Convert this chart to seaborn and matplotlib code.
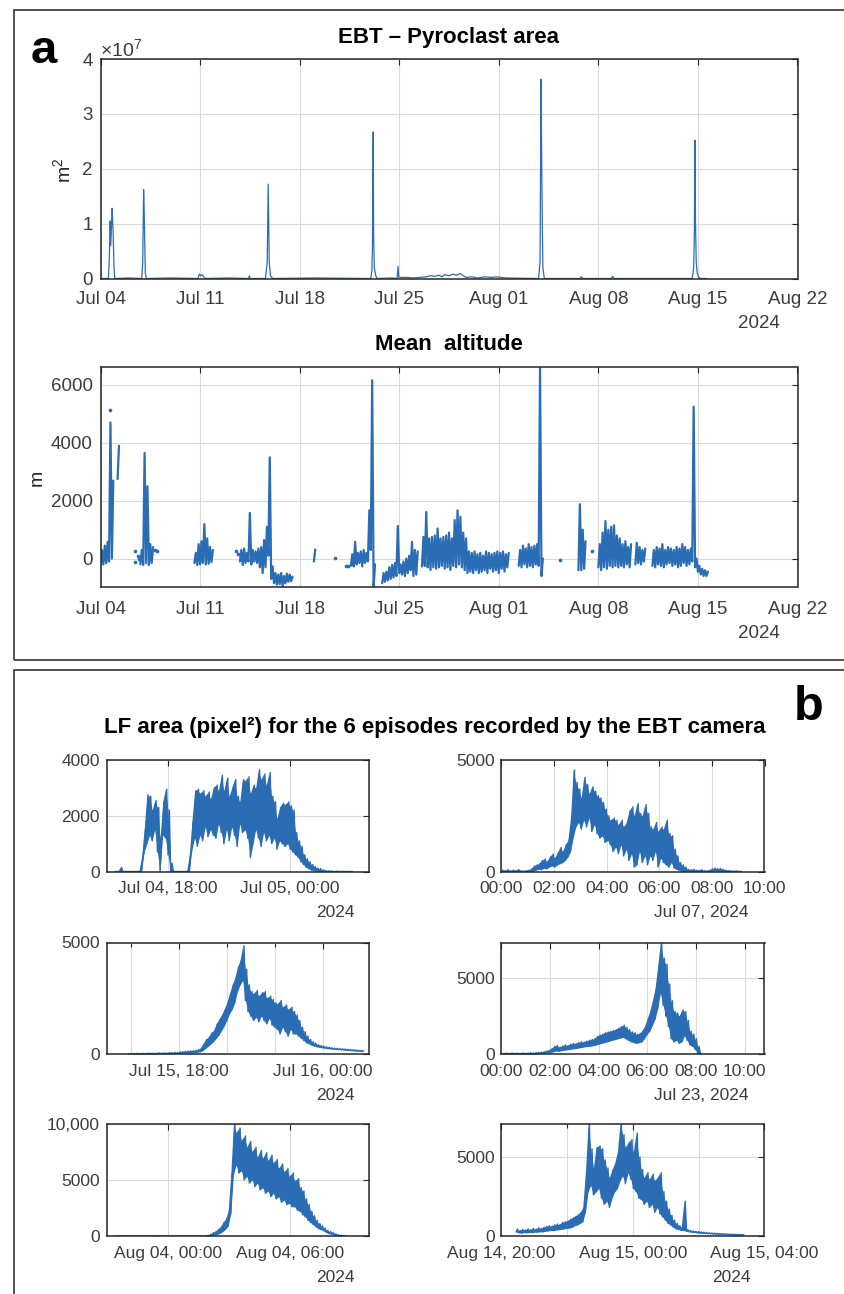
import numpy as np
import pandas as pd
import matplotlib
matplotlib.use('Agg')
import matplotlib.pyplot as plt
from matplotlib.patches import Rectangle
import seaborn as sns

nan = np.nan

# ---------------- panel a : pyroclast area (days since Jul 04, value x1e7 m^2)
area_day = [0.0, 0.55, 0.62, 0.68, 0.72, 0.78, 0.82, 0.88, 0.95, 1.0,
            2.0, 2.9, 2.97, 3.03, 3.07, 3.10, 3.15, 3.22,
            5.0, 6.85, 6.95, 7.05, 7.15, 7.25, 7.35,
            9.0, 10.40, 10.46, 10.52,
            11.6, 11.72, 11.79, 11.86, 11.95, 12.1,
            15.0, 19.0, 19.08, 19.12, 19.17, 19.2, 19.25, 19.35, 19.45,
            20.5, 20.85, 20.92, 20.97,
            21.5, 22.0, 22.9, 23.2, 23.5, 23.8, 24.0, 24.2, 24.5, 24.8, 25.0, 25.3, 25.5, 25.7,
            26.1, 26.5, 27.0, 27.5, 27.8, 28.5,
            30.8, 30.9, 30.97, 31.0, 31.05, 31.1, 31.2,
            33.7, 33.8, 33.9, 35.9, 36.0, 36.1,
            41.6, 41.7, 41.75, 41.79, 41.83, 41.88, 41.95, 42.05, 42.2, 42.6]
area_e7 = [0, 0, 0.35, 1.05, 0.6, 1.0, 1.28, 0.9, 0.2, 0,
           0.01, 0, 0.3, 1.62, 1.22, 0.8, 0.1, 0,
           0.01, 0, 0.08, 0.05, 0.07, 0.03, 0,
           0.01, 0, 0.05, 0,
           0, 0.3, 1.72, 0.3, 0.05, 0,
           0.01, 0, 0.15, 0.6, 2.67, 0.8, 0.2, 0.05, 0,
           0.01, 0, 0.22, 0.02,
           0.02, 0.01, 0.03, 0.05, 0.04, 0.06, 0.03, 0.07, 0.05, 0.08, 0.06, 0.09, 0.05, 0.02,
           0.03, 0.01, 0.03, 0.02, 0.03, 0.01,
           0, 0.3, 3.63, 2.6, 1.2, 0.2, 0,
           0, 0.03, 0, 0, 0.04, 0,
           0, 0.2, 0.8, 2.52, 1.0, 0.3, 0.1, 0.02, 0, 0]

# ---------------- panel a : mean altitude, upper / lower envelope every 0.2 day (m)
alt_hi = [300, 450, 580, 4700, 2700, nan, 3900, nan, nan, nan,
          nan, nan, nan, nan, 300, 3650, 2500, 500, 400, nan,
          nan, nan, nan, nan, nan, nan, nan, nan, nan, nan,
          nan, nan, nan, 200, 500, 600, 1190, 700, 400, 300,
          nan, nan, nan, nan, nan, nan, nan, nan, nan, 300,
          350, 200, 1580, 300, 250, 350, 400, 640, 1100, 3500,
          -270, -500, -550, -500, -600, -520, -550, -620, nan, nan,
          nan, nan, nan, nan, nan, 320, nan, nan, nan, nan,
          nan, nan, nan, nan, nan, nan, nan, nan, 150, 580,
          200, 250, 300, 200, 1670, 6160, -200, nan, nan, -500,
          -450, -300, -220, -150, 1130, -200, -100, 0, 100, 580,
          300, 250, nan, 750, 1610, 700, 750, 800, 1040, 700,
          750, 800, 900, 700, 1330, 1670, 1450, 900, 700, 250,
          200, 250, 150, 200, 100, 250, 200, 150, 200, 250,
          200, 250, 150, 200, nan, nan, nan, 300, 450, 350,
          500, 400, 450, 500, 6610, 0, nan, nan, nan, nan,
          nan, nan, nan, nan, nan, nan, nan, nan, 1880, 1000,
          600, nan, nan, nan, nan, 500, 900, 1300, 1000, 1100,
          1150, 800, 700, 500, 600, 400, 500, nan, 550, 400,
          300, 350, nan, nan, 300, 400, 350, 500, 300, 400,
          350, 300, 400, 350, 500, 400, 300, 350, 5250, 0,
          -250, -350, -400, -450]
alt_lo = [-220, -200, -160, -100, 0, nan, 2750, nan, nan, nan,
          nan, nan, nan, nan, -200, -220, -150, -220, -150, nan,
          nan, nan, nan, nan, nan, nan, nan, nan, nan, nan,
          nan, nan, nan, -150, -220, -200, -150, -200, -180, -120,
          nan, nan, nan, nan, nan, nan, nan, nan, nan, -100,
          -220, -150, -100, -200, -100, -150, -300, -500, -300, 100,
          -700, -850, -900, -880, -960, -850, -800, -780, nan, nan,
          nan, nan, nan, nan, nan, -100, nan, nan, nan, nan,
          nan, nan, nan, nan, nan, nan, nan, nan, -250, -270,
          -200, -150, -270, -150, -100, 300, -960, nan, nan, -850,
          -800, -750, -700, -650, -600, -500, -550, -600, -500, -400,
          -600, -550, nan, -270, -250, -300, -390, -300, -350, -300,
          -250, -350, -300, -390, -250, -300, -200, -300, -400, -500,
          -450, -500, -400, -500, -450, -400, -500, -350, -450, -400,
          -500, -350, -450, -300, nan, nan, nan, -250, -300, -200,
          -300, -250, -300, -200, -250, -600, nan, nan, nan, nan,
          nan, nan, nan, nan, nan, nan, nan, nan, -400, -400,
          -350, nan, nan, nan, nan, -300, -400, -300, -350, -250,
          -300, -250, -300, -250, -300, -200, -300, nan, -200, -150,
          -200, -100, nan, nan, -250, -300, -200, -250, -300, -200,
          -150, -250, -200, -300, -250, -150, -250, -200, -100, -300,
          -450, -550, -600, -600]
alt_dot_day = [0.70, 2.42, 2.45, 2.66, 2.74, 3.85, 3.95, 9.55, 9.65, 16.5, 17.25, 17.4, 32.3, 34.55]
alt_dot_val = [5120, 280, -100, 100, 0, 300, 250, 250, 150, 20, -270, -250, -50, 250]

a_xticks = [0, 7, 14, 21, 28, 35, 42, 49]
a_xticklabels = ['Jul 04', 'Jul 11', 'Jul 18', 'Jul 25', 'Aug 01', 'Aug 08', 'Aug 15', 'Aug 22']

# ---------------- panel b : LF area (pixel^2), hi / lo envelopes
ep1_hi = [0, 0, 150, 0, 0, 0, 0, 0, 0, 0,
          500, 1500, 2750, 2700, 2200, 2550, 2300, 1200, 2500, 2950,
          2200, 300, 0, 0, 0, 0, 0, 0, 600, 1800,
          2900, 2950, 2800, 2900, 2700, 2850, 2600, 3000, 3100, 2900,
          3450, 2900, 3350, 2700, 3000, 3300, 2700, 2500, 3300, 3250,
          3400, 2800, 3100, 3000, 3650, 3300, 3500, 3100, 3550, 2700,
          2500, 1900, 2300, 2450, 2400, 2500, 2350, 2200, 1400, 1100,
          900, 600, 450, 350, 250, 180, 120, 100, 60, 30,
          20, 20, 0, 10, 0, 0, 0, 0, 0, 0]
ep1_lo = [0, 0, 0, 0, 0, 0, 0, 0, 0, 0,
          0, 700, 1000, 1300, 1100, 1500, 700, 0, 1300, 1200,
          600, 0, 0, 0, 0, 0, 0, 0, 0, 800,
          1200, 900, 1300, 1100, 1600, 1250, 1500, 1300, 1200, 1700,
          1400, 1000, 1500, 1100, 1600, 1300, 900, 1700, 1400, 1500,
          1200, 500, 1000, 1500, 1200, 900, 1400, 1100, 1300, 1000,
          1200, 800, 1100, 1000, 900, 1000, 800, 700, 600, 500,
          350, 250, 150, 100, 50, 30, 20, 0, 0, 0,
          0, 0, 0, 0, 0, 0, 0, 0, 0, 0]

ep2_hi = [60, 40, 80, 30, 60, 40, 90, 30, 20, 40,
          60, 120, 250, 300, 350, 500, 560, 450, 650, 780,
          600, 850, 1080, 900, 1200, 1400, 2400, 4550, 4000, 3700,
          3300, 4220, 3900, 3500, 3800, 3600, 3400, 3300, 3100, 2800,
          2500, 2300, 2400, 2300, 2100, 2300, 2000, 2200, 2700, 2900,
          2500, 3050, 2600, 2500, 3000, 2600, 2000, 1900, 2200, 1800,
          2000, 1900, 2300, 1700, 1600, 1000, 700, 400, 300, 200,
          100, 80, 100, 60, 50, 80, 40, 30, 60, 120,
          150, 130, 140, 100, 60, 40, 30, 20, 30, 10,
          0]
ep2_lo = [0, 0, 0, 0, 0, 0, 0, 0, 0, 0,
          0, 0, 30, 60, 100, 80, 150, 120, 200, 250,
          200, 300, 350, 400, 500, 650, 900, 1500, 2000, 2200,
          1900, 2300, 2000, 2400, 1800, 2100, 1700, 1500, 1600, 1300,
          1400, 1200, 900, 1100, 800, 1200, 700, 1000, 500, 800,
          200, 300, 900, 400, 700, 300, 700, 500, 900, 200,
          600, 400, 300, 200, 400, 150, 100, 50, 0, 0,
          0, 0, 0, 0, 0, 0, 0, 0, 0, 0,
          30, 20, 0, 0, 0, 0, 0, 0, 0, 0,
          0]

ep3_hi = [10, 20, 10, 30, 20, 30, 20, 40, 30, 40,
          30, 50, 40, 50, 40, 60, 50, 70, 60, 90,
          100, 120, 130, 140, 150, 170, 200, 260, 450, 650,
          750, 950, 1050, 1350, 1550, 1750, 2000, 2300, 2700, 3100,
          3400, 3900, 4200, 4850, 3800, 3100, 2800, 2700, 2850, 2600,
          2750, 2800, 2500, 2600, 2450, 2300, 2250, 2400, 2100, 2200,
          2000, 2100, 1900, 1750, 1500, 1200, 1000, 800, 650, 550,
          480, 420, 380, 350, 320, 300, 280, 260, 250, 240,
          230, 220, 210, 200, 190, 180, 170, 160, 150]
ep3_lo = [0, 0, 0, 0, 0, 0, 0, 0, 0, 10,
          0, 10, 10, 10, 10, 20, 20, 20, 20, 30,
          40, 40, 50, 50, 60, 70, 80, 100, 150, 250,
          350, 450, 550, 700, 850, 1050, 1250, 1500, 1800, 2000,
          2300, 2800, 3100, 3300, 2400, 1900, 1700, 1500, 1650, 1450,
          1700, 1500, 1350, 1600, 1300, 1200, 1100, 900, 1200, 1000,
          800, 1100, 900, 900, 800, 700, 600, 500, 450, 400,
          350, 320, 300, 280, 260, 240, 230, 220, 210, 200,
          190, 180, 170, 160, 150, 140, 130, 120, 110]

ep4_hi = [50, 60, 40, 70, 50, 60, 40, 70, 50, 60,
          80, 60, 90, 100, 120, 150, 200, 250, 350, 500,
          560, 450, 520, 600, 550, 650, 700, 680, 750, 800,
          780, 850, 900, 950, 1000, 1150, 1250, 1300, 1400, 1450,
          1500, 1550, 1600, 1700, 1800, 1900, 1750, 1600, 1450, 1400,
          1300, 1350, 1500, 1800, 2300, 2800, 3500, 4300, 5800, 7330,
          6300, 5900, 4600, 3500, 2800, 2700, 2500, 2900, 2800, 2200,
          1500, 1300, 1000, 500, 0]
ep4_lo = [0, 0, 0, 0, 0, 0, 0, 0, 0, 0,
          0, 0, 10, 20, 30, 40, 60, 80, 100, 150,
          200, 180, 220, 250, 280, 300, 330, 350, 380, 420,
          450, 480, 500, 520, 550, 600, 650, 700, 750, 800,
          850, 900, 950, 1000, 1050, 1100, 1000, 900, 800, 750,
          700, 750, 800, 1000, 1300, 1500, 1900, 2300, 3000, 4000,
          3200, 2500, 1800, 1000, 800, 900, 700, 800, 1200, 900,
          600, 500, 300, 50, 0]

ep5_hi = [0, 0, 20, 0, 0, 10, 0, 0, 0, 0,
          0, 0, 0, 0, 0, 20, 0, 0, 0, 0,
          0, 0, 0, 0, 0, 0, 0, 0, 0, 0,
          0, 0, 0, 0, 0,
          60, 150, 300, 400, 600, 800, 1200, 1500, 2200, 5500,
          10000, 9200, 9600, 8500, 8900, 7900, 8400, 7500, 7900, 7000,
          7600, 6900, 7400, 6700, 7200, 6500, 6800, 6000, 6400, 5700,
          6000, 5300, 5600, 4900, 5100, 4300, 4000, 3300, 2800, 2200,
          1800, 1400, 1100, 900, 700, 500, 400, 300, 200, 120,
          60, 20, 0]
ep5_lo = [0, 0, 0, 0, 0, 0, 0, 0, 0, 0,
          0, 0, 0, 0, 0, 0, 0, 0, 0, 0,
          0, 0, 0, 0, 0, 0, 0, 0, 0, 0,
          0, 0, 0, 0, 0,
          0, 0, 50, 100, 150, 250, 400, 600, 900, 2000,
          5500, 6300, 5600, 5800, 5000, 5300, 4700, 5000, 4400, 4700,
          4100, 4300, 3800, 4000, 3500, 3800, 3300, 3500, 3000, 3200,
          2800, 2900, 2600, 2600, 2300, 2200, 1900, 1700, 1400, 1200,
          1000, 800, 650, 550, 450, 300, 200, 150, 80, 30,
          0, 0, 0]

ep6_hi = [450, 350, 420, 380, 450, 400, 480, 430, 520, 480,
          550, 600, 650, 620, 700, 750, 720, 850, 900, 950,
          1050, 1150, 1250, 1350, 1500, 1800, 4000, 7100, 5500, 4300,
          5600, 5700, 5500, 4800, 4300, 3700, 4200, 4600, 5300, 7100,
          6400, 5600, 5900, 6100, 5300, 6500, 5000, 4200, 3700, 4000,
          3600, 3900, 3500, 3700, 4000, 2800, 2200, 1700, 1300, 1000,
          800, 650, 550, 2200, 400, 350, 320, 300, 280, 260,
          240, 220, 200, 190, 180, 170, 160, 150, 140, 130,
          120, 120, 110, 100, 100, 90]
ep6_lo = [250, 200, 180, 220, 200, 230, 210, 250, 240, 270,
          260, 300, 320, 350, 340, 380, 400, 420, 450, 480,
          500, 550, 650, 700, 800, 900, 1500, 2800, 3200, 2600,
          2800, 3000, 2400, 2000, 2200, 1800, 2400, 2800, 3000, 3500,
          3800, 3300, 4000, 3600, 3000, 2800, 2400, 2300, 2000, 2200,
          1800, 2000, 1500, 1800, 1400, 1200, 1000, 800, 700, 550,
          450, 400, 350, 350, 300, 260, 240, 220, 200, 180,
          170, 160, 150, 140, 130, 120, 110, 100, 100, 90,
          80, 80, 70, 70, 60, 60]

hours_2h = ['00:00', '02:00', '04:00', '06:00', '08:00', '10:00']

# ---------------- style
sns.set_theme(style='white')
plt.rcParams['font.family'] = ['Liberation Sans', 'DejaVu Sans']
plt.rcParams['mathtext.fontset'] = 'custom'
plt.rcParams['mathtext.rm'] = 'Liberation Sans'
plt.rcParams['mathtext.it'] = 'Liberation Sans:italic'
plt.rcParams['mathtext.bf'] = 'Liberation Sans:bold'

BLUE = '#2a6db5'
GRID = '#dadada'
INK = '#262626'
TICK = '#3c3c3c'
W, H = 844, 1294

fig = plt.figure(figsize=(W / 100, H / 100), dpi=100)
fig.patch.set_facecolor('white')


def rect(x0, y0, x1, y1):
    return [x0 / W, 1 - y1 / H, (x1 - x0) / W, (y1 - y0) / H]


def ftext(x, y, s, **kw):
    fig.text(x / W, 1 - y / H, s, **kw)


def style(ax, fs, padx, pady):
    for s in ax.spines.values():
        s.set_visible(True)
        s.set_color(INK)
        s.set_linewidth(1.1)
    ax.tick_params(which='both', direction='in', top=True, right=True,
                   color=INK, labelcolor=TICK, labelsize=fs, width=0.8)
    ax.tick_params(which='major', length=4)
    ax.tick_params(which='minor', length=3)
    ax.tick_params(axis='x', which='both', pad=padx)
    ax.tick_params(axis='y', which='both', pad=pady)
    ax.grid(True, which='both', color=GRID, lw=0.8)
    ax.set_axisbelow(True)
    ax.set_xlabel('')
    ax.set_ylabel('')
    ax.set_facecolor('white')


def draw(ax, t, v, lw=0.9):
    t = np.asarray(t, float)
    v = np.asarray(v, float)
    n = min(len(t), len(v))
    t, v = t[:n], v[:n]
    seg = np.cumsum(np.isnan(v))
    ok = ~np.isnan(v)
    df = pd.DataFrame({'t': t[ok], 'v': v[ok], 'seg': seg[ok]})
    sns.lineplot(data=df, x='t', y='v', units='seg', estimator=None, sort=False,
                 color=BLUE, lw=lw, ax=ax, legend=False)


def zigzag(t0, t1, hi, lo):
    n = min(len(hi), len(lo))
    v = np.empty(2 * n)
    v[0::2] = np.asarray(lo[:n], float)
    v[1::2] = np.asarray(hi[:n], float)
    return np.linspace(t0, t1, 2 * n), v


def band(ax, t0, t1, hi, lo, lw=0.9):
    t, v = zigzag(t0, t1, hi, lo)
    tl, vl, vh = t[0::2], v[0::2], v[1::2]
    ok = ~(np.isnan(vl) | np.isnan(vh))
    ax.fill_between(tl, np.nan_to_num(vl), np.nan_to_num(vh), where=ok,
                    color=BLUE, lw=0, interpolate=False)
    draw(ax, t, v, lw=lw)


# ---------------- frames and panel letters
fig.add_artist(Rectangle((14 / W, 1 - 660 / H), (870 - 14) / W, (660 - 10) / H,
                         transform=fig.transFigure, fill=False, ec='#333333', lw=1.2))
fig.add_artist(Rectangle((14 / W, 1 - 1310 / H), (870 - 14) / W, (1310 - 670) / H,
                         transform=fig.transFigure, fill=False, ec='#333333', lw=1.2))
ftext(31, 63, 'a', fontsize=34, fontweight='bold', va='baseline', ha='left', color='black')
ftext(794, 720, 'b', fontsize=35, fontweight='bold', va='baseline', ha='left', color='black')

# ---------------- panel a, top
ax1 = fig.add_axes(rect(100.5, 59, 797.5, 278.5))
draw(ax1, area_day, np.asarray(area_e7) * 1e7, lw=0.9)
ax1.set_xlim(0, 49)
ax1.set_ylim(0, 4e7)
ax1.set_xticks(a_xticks)
ax1.set_xticklabels(a_xticklabels)
ax1.set_yticks([0, 1e7, 2e7, 3e7, 4e7])
ax1.set_yticklabels(['0', '1', '2', '3', '4'])
style(ax1, 13.5, 9, 5.5)
ftext(449, 37, 'EBT – Pyroclast area', ha='center', va='center', fontsize=16,
      fontweight='bold', color='black')
ftext(100, 49, r'$\times10^{7}$', ha='left', va='center', fontsize=14, color=TICK)
ftext(63, 170, r'm$^2$', ha='center', va='center', rotation=90, fontsize=14, color=INK)
ftext(780, 323, '2024', ha='right', va='center', fontsize=13.5, color=TICK)

# ---------------- panel a, altitude
ax2 = fig.add_axes(rect(100.5, 367.3, 797.5, 586.7))
n_alt = min(len(alt_hi), len(alt_lo))
t_alt, v_alt = zigzag(0.0, 0.2 * n_alt - 0.1, alt_hi, alt_lo)
draw(ax2, t_alt, v_alt, lw=1.6)
sns.scatterplot(x=alt_dot_day, y=alt_dot_val, s=7, color=BLUE, linewidth=0, ax=ax2, legend=False)
ax2.set_xlim(0, 49)
ax2.set_ylim(-970, 6610)
ax2.set_xticks(a_xticks)
ax2.set_xticklabels(a_xticklabels)
ax2.set_yticks([0, 2000, 4000, 6000])
ax2.set_yticklabels(['0', '2000', '4000', '6000'])
style(ax2, 13.5, 10, 5.5)
ftext(449, 344, 'Mean  altitude', ha='center', va='center', fontsize=16,
      fontweight='bold', color='black')
ftext(37, 478, 'm', ha='center', va='center', rotation=90, fontsize=14, color=INK)
ftext(780, 633, '2024', ha='right', va='center', fontsize=13.5, color=TICK)

# ---------------- panel b
ftext(435, 728, 'LF area (pixel²) for the 6 episodes recorded by the EBT camera',
      ha='center', va='center', fontsize=16, fontweight='bold', color='black')

LX = (107, 369)
RX = (501.5, 764.5)
ROWS = [(760, 871.5), (942.5, 1054), (1123.5, 1236)]

episodes = [
    dict(x=LX, y=ROWS[0], hi=ep1_hi, lo=ep1_lo, t=(15.39, 27.09), xlim=(15.0, 27.9),
         ylim=(0, 4000), yt=[0, 2000, 4000], ytl=['0', '2000', '4000'],
         xt=[18, 24], xtl=['Jul 04, 18:00', 'Jul 05, 00:00'], minor=[],
         sub='2024', subx=355),
    dict(x=RX, y=ROWS[0], hi=ep2_hi, lo=ep2_lo, t=(0.0, 9.13), xlim=(0, 10),
         ylim=(0, 5000), yt=[0, 5000], ytl=['0', '5000'],
         xt=[0, 2, 4, 6, 8, 10], xtl=hours_2h, minor=[],
         sub='Jul 07, 2024', subx=748),
    dict(x=LX, y=ROWS[1], hi=ep3_hi, lo=ep3_lo, t=(15.89, 25.72), xlim=(15.0, 25.94),
         ylim=(0, 5000), yt=[0, 5000], ytl=['0', '5000'],
         xt=[18, 24], xtl=['Jul 15, 18:00', 'Jul 16, 00:00'], minor=[16, 20, 22],
         sub='2024', subx=355),
    dict(x=RX, y=ROWS[1], hi=ep4_hi, lo=ep4_lo, t=(0.05, 8.24), xlim=(0, 10.82),
         ylim=(0, 7333), yt=[0, 5000], ytl=['0', '5000'],
         xt=[0, 2, 4, 6, 8, 10], xtl=hours_2h, minor=[],
         sub='Jul 23, 2024', subx=748),
    dict(x=LX, y=ROWS[2], hi=ep5_hi, lo=ep5_lo, t=(-2.665, 8.78), xlim=(-3.0, 9.89),
         ylim=(0, 10000), yt=[0, 5000, 10000], ytl=['0', '5000', '10,000'],
         xt=[0, 6], xtl=['Aug 04, 00:00', 'Aug 04, 06:00'], minor=[],
         sub='2024', subx=355),
    dict(x=RX, y=ROWS[2], hi=ep6_hi, lo=ep6_lo, t=(20.446, 27.37), xlim=(20, 28),
         ylim=(0, 7110), yt=[0, 5000], ytl=['0', '5000'],
         xt=[20, 24, 28], xtl=['Aug 14, 20:00', 'Aug 15, 00:00', 'Aug 15, 04:00'],
         minor=[22, 26], sub='2024', subx=751),
]

for ep in episodes:
    ax = fig.add_axes(rect(ep['x'][0], ep['y'][0], ep['x'][1], ep['y'][1]))
    band(ax, ep['t'][0], ep['t'][1], ep['hi'], ep['lo'], lw=1.0)
    ax.set_xlim(*ep['xlim'])
    ax.set_ylim(*ep['ylim'])
    ax.set_xticks(ep['xt'])
    ax.set_xticklabels(ep['xtl'])
    ax.set_xticks(ep['minor'], minor=True)
    ax.set_yticks(ep['yt'])
    ax.set_yticklabels(ep['ytl'])
    style(ax, 12.5, 7, 5)
    ftext(ep['subx'], ep['y'][1] + 41, ep['sub'], ha='right', va='center',
          fontsize=12.5, color=TICK)

fig.savefig('out.png', dpi=100, facecolor='white')
